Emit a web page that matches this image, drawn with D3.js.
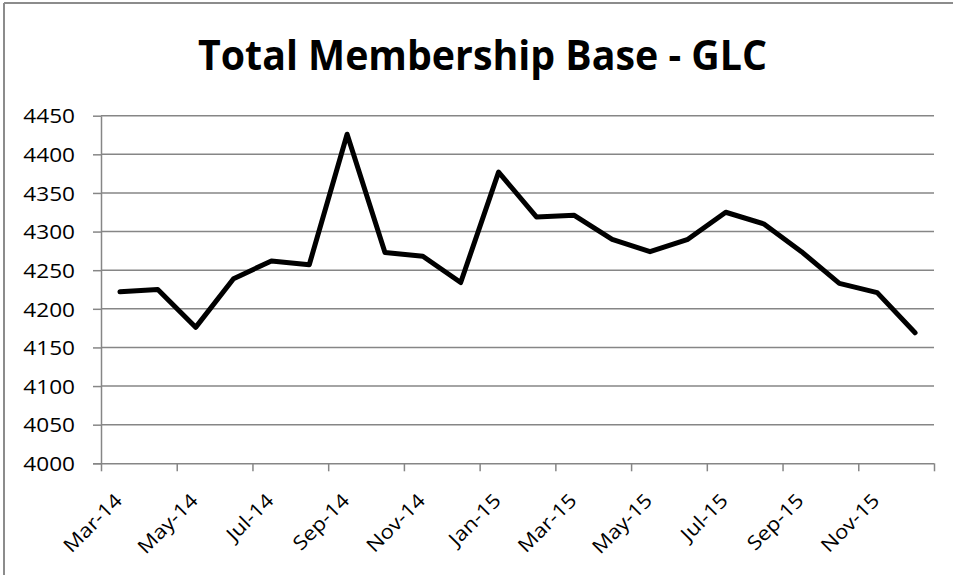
<!DOCTYPE html>
<html>
<head>
<meta charset="utf-8">
<script src="https://cdn.jsdelivr.net/npm/d3@7"></script>
<style>
  html, body { margin: 0; padding: 0; background: #fff; }
  svg { display: block; }
  text { font-family: "Open Sans", sans-serif; fill: #000; }
</style>
</head>
<body>
<svg id="chart" width="953" height="575"></svg>
<script>
// Monthly total membership, Mar 2014 – Dec 2015
const months = ["Mar-14","Apr-14","May-14","Jun-14","Jul-14","Aug-14","Sep-14","Oct-14",
                "Nov-14","Dec-14","Jan-15","Feb-15","Mar-15","Apr-15","May-15","Jun-15",
                "Jul-15","Aug-15","Sep-15","Oct-15","Nov-15","Dec-15"];
const members = [4222, 4225, 4176, 4239, 4262, 4257, 4426, 4273,
                 4268, 4234, 4377, 4319, 4321, 4290, 4274, 4290,
                 4325, 4310, 4274, 4233, 4221, 4169];
const yTicks = [4000, 4050, 4100, 4150, 4200, 4250, 4300, 4350, 4400, 4450];
const titleText = "Total Membership Base - GLC";

const FONT = '"Open Sans", sans-serif';
const svg = d3.select("#chart");
const plot = { left: 101, right: 934, top: 115.7, bottom: 463.3 };
const axisColor = "#868686";

// stretch a text element horizontally by a factor
function widen(sel, factor) {
  sel.each(function () {
    const w = this.getComputedTextLength();
    d3.select(this).attr("textLength", w * factor).attr("lengthAdjust", "spacingAndGlyphs");
  });
}

// outer frame (top and left edges)
svg.append("line").attr("x1", 4).attr("x2", 953).attr("y1", 3).attr("y2", 3)
  .attr("stroke", "#8c8c8c").attr("stroke-width", 2);
svg.append("line").attr("x1", 4).attr("x2", 4).attr("y1", 3).attr("y2", 575)
  .attr("stroke", "#8c8c8c").attr("stroke-width", 2);

const x = d3.scaleBand().domain(months).range([plot.left, plot.right]).padding(0);
const xi = d3.scaleLinear().domain([0, months.length]).range([plot.left, plot.right]);
const y = d3.scaleLinear().domain([4000, 4450]).range([plot.bottom, plot.top]);

// horizontal gridlines
svg.append("g").selectAll("line").data(yTicks.filter(v => v > 4000)).join("line")
  .attr("x1", plot.left).attr("x2", plot.right)
  .attr("y1", d => y(d)).attr("y2", d => y(d))
  .attr("stroke", axisColor).attr("stroke-width", 1.5);

// value axis
const yAxis = svg.append("g").attr("transform", `translate(${plot.left},0)`)
  .call(d3.axisLeft(y).tickValues(yTicks).tickFormat(d3.format("d"))
    .tickSize(8).tickSizeOuter(0).tickPadding(18));
yAxis.attr("font-family", FONT).attr("font-size", 20);
yAxis.select(".domain").attr("stroke", axisColor).attr("stroke-width", 1.5);
yAxis.selectAll(".tick line").attr("stroke", axisColor).attr("stroke-width", 1.5);
yAxis.selectAll(".tick text").attr("fill", "#000").attr("dy", "0.36em");
widen(yAxis.selectAll(".tick text"), 1.13);

// category axis: ticks on every second category boundary
const boundaryTicks = d3.range(0, months.length + 1, 2);
const xAxis = svg.append("g").attr("transform", `translate(0,${plot.bottom})`)
  .call(d3.axisBottom(xi).tickValues(boundaryTicks).tickFormat("").tickSize(8).tickSizeOuter(0));
xAxis.select(".domain").attr("stroke", axisColor).attr("stroke-width", 1.5)
  .attr("d", `M${plot.left - 8},0.5H${plot.right}`);
xAxis.selectAll(".tick line").attr("stroke", axisColor).attr("stroke-width", 1.5);

// rotated month labels on every second category
const labels = svg.append("g").attr("font-family", FONT).attr("font-size", 19.5)
  .selectAll("text")
  .data(months.filter((m, i) => i % 2 === 0)).join("text")
  .attr("transform", d => `translate(${x(d) + x.bandwidth() / 2 + 3.5},${plot.bottom + 38.5}) rotate(-45)`)
  .attr("text-anchor", "end")
  .text(d => d);
widen(labels, 1.13);

// membership line
const line = d3.line()
  .x((d, i) => x(months[i]) + x.bandwidth() / 2)
  .y(d => y(d));
svg.append("path").datum(members)
  .attr("d", line)
  .attr("fill", "none").attr("stroke", "#000").attr("stroke-width", 5)
  .attr("stroke-linejoin", "round").attr("stroke-linecap", "round");

// title
const title = svg.append("text").attr("x", 198).attr("y", 70)
  .attr("font-family", FONT).attr("font-size", 42).attr("font-weight", "bold").text(titleText);
title.attr("textLength", 569).attr("lengthAdjust", "spacingAndGlyphs");
</script>
</body>
</html>
